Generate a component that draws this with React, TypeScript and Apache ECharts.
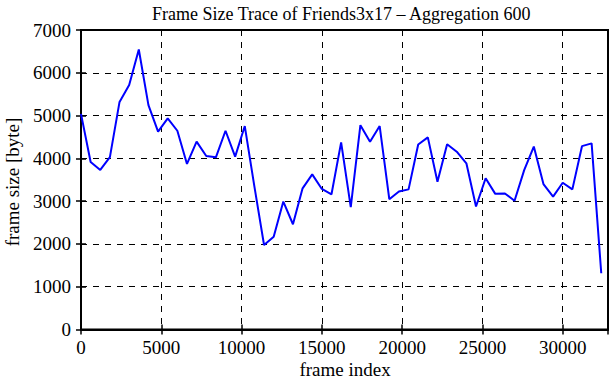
import React, { useEffect, useRef } from "react";
import * as echarts from "echarts";

const frameIndex: number[] = Array.from({ length: 55 }, (_, i) => i * 600);
const frameSize: number[] = [
  5040, 3915, 3730, 4030, 5320, 5715, 6545, 5245, 4625, 4935,
  4645, 3870, 4390, 4055, 4025, 4645, 4040, 4755, 3340, 1975,
  2170, 2990, 2460, 3300, 3625, 3285, 3160, 4375, 2860, 4775,
  4390, 4755, 3045, 3225, 3275, 4325, 4490, 3455, 4330, 4155,
  3885, 2875, 3535, 3170, 3180, 3010, 3725, 4275, 3400, 3105,
  3430, 3275, 4285, 4350, 1315,
];
const xTicks: number[] = [0, 5000, 10000, 15000, 20000, 25000, 30000];
const yTicks: number[] = [0, 1000, 2000, 3000, 4000, 5000, 6000, 7000];
const titleText = "Frame Size Trace of Friends3x17 \u2013 Aggregation 600";
const xName = "frame index";
const yName = "frame size [byte]";

const FONT = "'Liberation Serif', 'DejaVu Serif', serif";

export default function App() {
  const ref = useRef<HTMLDivElement>(null);
  useEffect(() => {
    if (!ref.current) return;
    const chart = echarts.init(ref.current, undefined, { renderer: "svg" });
    const data = frameIndex.map((x, i) => [x, frameSize[i]]);
    const axisCommon = {
      axisLine: { show: true, lineStyle: { color: "#000", width: 2 } },
      axisTick: { show: true, inside: true, length: 5, lineStyle: { color: "#000", width: 1.5 } },
      splitLine: { show: true, lineStyle: { color: "#000", type: [6, 6] as any, width: 1 } },
    };
    chart.setOption({
      animation: false,
      backgroundColor: "#fff",
      title: {
        text: titleText,
        left: 147,
        top: 0,
        textStyle: { fontFamily: FONT, fontSize: 18, fontWeight: "normal", color: "#000" },
      },
      grid: { left: 81, right: 3, top: 30, bottom: 50.5, show: true, borderColor: "#000", borderWidth: 2, backgroundColor: "transparent" },
      xAxis: [
        {
          type: "value",
          min: 0,
          max: 32820,
          interval: 5000,
          ...axisCommon,
          axisLabel: {
            margin: 8,
            fontFamily: FONT,
            fontSize: 19,
            color: "#000",
            formatter: (v: number) => (xTicks.includes(v) ? String(v) : ""),
          },
        },
        {
          type: "value",
          position: "top",
          min: 0,
          max: 32820,
          interval: 5000,
          axisLine: { show: false },
          axisTick: { show: true, inside: true, length: 5, lineStyle: { color: "#000", width: 1.5 } },
          axisLabel: { show: false },
          splitLine: { show: false },
        },
      ],
      yAxis: [
        {
          type: "value",
          min: 0,
          max: 7000,
          interval: 1000,
          ...axisCommon,
          axisLabel: {
            margin: 10,
            fontFamily: FONT,
            fontSize: 19,
            color: "#000",
            formatter: (v: number) => (yTicks.includes(v) ? String(v) : ""),
          },
        },
        {
          type: "value",
          position: "right",
          min: 0,
          max: 7000,
          interval: 1000,
          axisLine: { show: false },
          axisTick: { show: true, inside: true, length: 5, lineStyle: { color: "#000", width: 1.5 } },
          axisLabel: { show: false },
          splitLine: { show: false },
        },
      ],
      graphic: [
        {
          type: "text",
          x: 345,
          y: 369,
          style: { text: xName, fontFamily: FONT, fontSize: 19, fill: "#000", textAlign: "center", textVerticalAlign: "middle" },
        },
        {
          type: "text",
          x: 12,
          y: 182,
          rotation: Math.PI / 2,
          style: { text: yName, fontFamily: FONT, fontSize: 19, fill: "#000", textAlign: "center", textVerticalAlign: "middle" },
        },
      ],
      series: [
        {
          type: "line",
          data,
          xAxisIndex: 0,
          yAxisIndex: 0,
          showSymbol: false,
          symbol: "none",
          lineStyle: { color: "#0000ff", width: 2 },
          z: 5,
        },
      ],
    });
    return () => chart.dispose();
  }, []);
  return <div ref={ref} style={{ position: "fixed", left: 0, top: 0, width: 611, height: 380 }} />;
}
